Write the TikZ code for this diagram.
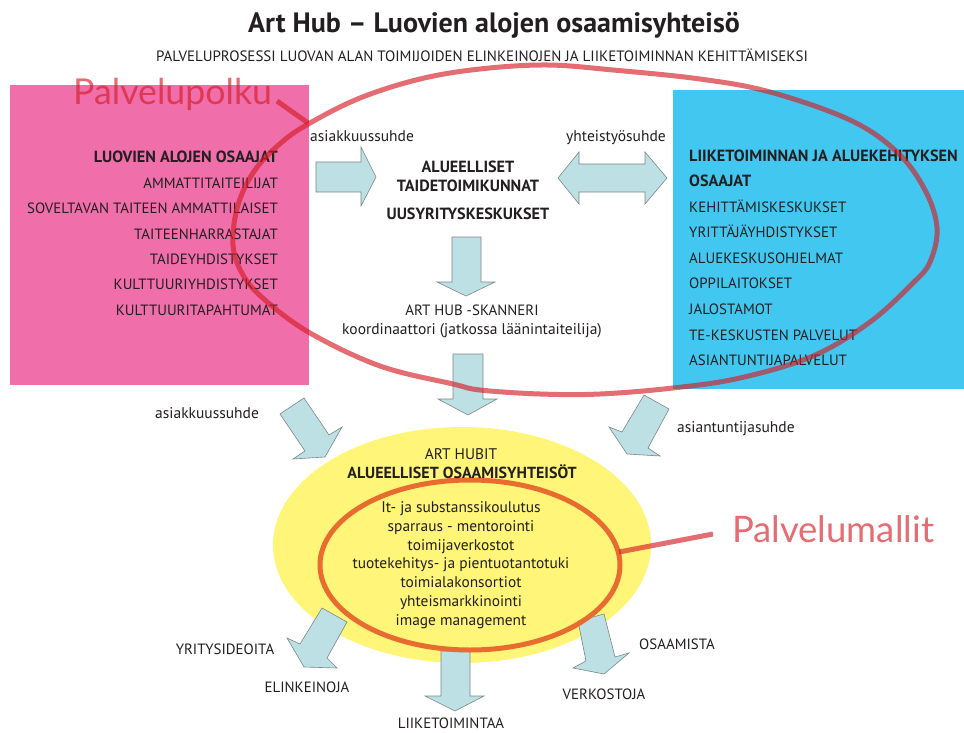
\documentclass[tikz,border=0pt]{standalone}
\usepackage{fontspec}
\setmainfont{PT Sans}
\newfontfamily\calloutfont{Lato}
\definecolor{txt}{RGB}{35,31,32}
\definecolor{pinkbox}{RGB}{240,110,170}
\definecolor{bluebox}{RGB}{66,200,240}
\definecolor{arrowfill}{RGB}{188,224,228}
\definecolor{arrowline}{RGB}{125,135,135}
\definecolor{hubyellow}{RGB}{255,245,120}
\definecolor{ringorange}{RGB}{232,108,48}
\definecolor{pathred}{RGB}{213,28,36}
\tikzset{
  blockarrow/.style={fill=arrowfill, draw=arrowline, line width=0.6pt, line join=miter},
  lbl/.style={inner sep=0pt, text=txt, font=\fontsize{14.9}{16}\selectfont},
  lblb/.style={inner sep=0pt, text=txt, font=\fontsize{16.2}{18}\selectfont\bfseries},
  rel/.style={inner sep=0pt, text=txt, font=\fontsize{15.5}{17}\selectfont},
  hubtxt/.style={inner sep=0pt, text=txt, font=\fontsize{15.4}{17}\selectfont},
  callout/.style={inner sep=0pt, text=pathred, text opacity=0.64, font=\fontsize{35.7}{40}\calloutfont},
  redline/.style={draw=pathred, draw opacity=0.64, line width=5pt},
}
\begin{document}
\begin{tikzpicture}[x=1pt,y=-1pt]
\useasboundingbox (0,0) rectangle (964,733);
\fill[white] (0,0) rectangle (964,733);

% boxes
\fill[pinkbox] (10,85) rectangle (309,385);
\fill[bluebox] (673,90) rectangle (964,389);

% title
\node[inner sep=0pt, anchor=base, text=txt, font=\fontsize{28}{30}\selectfont\bfseries] (title) at (494,33) {Art Hub – Luovien alojen osaamisyhteisö};
\node[inner sep=0pt, anchor=base, text=txt, font=\fontsize{15}{17}\selectfont] (subtitle) at (482,62) {PALVELUPROSESSI LUOVAN ALAN TOIMIJOIDEN ELINKEINOJEN JA LIIKETOIMINNAN KEHITTÄMISEKSI};

% pink list
\node[lblb, anchor=base east] (p0) at (278,163) {LUOVIEN ALOJEN OSAAJAT};
\node[lbl, anchor=base east] (p1) at (278,188.3) {AMMATTITAITEILIJAT};
\node[lbl, anchor=base east] (p2) at (278,213.6) {SOVELTAVAN TAITEEN AMMATTILAISET};
\node[lbl, anchor=base east] (p3) at (278,239) {TAITEENHARRASTAJAT};
\node[lbl, anchor=base east] (p4) at (278,264) {TAIDEYHDISTYKSET};
\node[lbl, anchor=base east] (p5) at (278,289.5) {KULTTUURIYHDISTYKSET};
\node[lbl, anchor=base east] (p6) at (278,315) {KULTTUURITAPAHTUMAT};

% blue list
\node[lblb, anchor=base west] (b0) at (689,161) {LIIKETOIMINNAN JA ALUEKEHITYKSEN};
\node[lblb, anchor=base west] (b1) at (689,186) {OSAAJAT};
\node[lbl, anchor=base west] (b2) at (689,212) {KEHITTÄMISKESKUKSET};
\node[lbl, anchor=base west] (b3) at (689,237) {YRITTÄJÄYHDISTYKSET};
\node[lbl, anchor=base west] (b4) at (689,263) {ALUEKESKUSOHJELMAT};
\node[lbl, anchor=base west] (b5) at (689,288) {OPPILAITOKSET};
\node[lbl, anchor=base west] (b6) at (689,314) {JALOSTAMOT};
\node[lbl, anchor=base west] (b7) at (689,340) {TE-KESKUSTEN PALVELUT};
\node[lbl, anchor=base west] (b8) at (689,365) {ASIANTUNTIJAPALVELUT};

% centre
\node[lblb, anchor=base] (c1) at (468,172) {ALUEELLISET};
\node[lblb, anchor=base] (c2) at (468,191) {TAIDETOIMIKUNNAT};
\node[lblb, anchor=base] (c3) at (468,219) {UUSYRITYSKESKUKSET};
\node[lbl, anchor=base] (s1) at (472,315) {ART HUB -SKANNERI};
\node[rel, anchor=base] (s2) at (472,334) {koordinaattori (jatkossa läänintaiteilija)};

% relation labels
\node[rel, anchor=base west] (r1) at (310,142) {asiakkuussuhde};
\node[rel, anchor=base west] (r2) at (566,142) {yhteistyösuhde};
\node[rel, anchor=base west] (r3) at (155,418) {asiakkuussuhde};
\node[rel, anchor=base west] (r4) at (677,432) {asiantuntijasuhde};

% top arrows
\draw[blockarrow] (316,162) -- (361,162) -- (361,147) -- (376,177) -- (361,206) -- (361,192) -- (316,192) -- cycle;
\draw[blockarrow] (558,178) -- (579,152) -- (579,164) -- (645,164) -- (645,152) -- (667,178) -- (645,204) -- (645,192) -- (579,192) -- (579,204) -- cycle;
\draw[blockarrow] (452,237) -- (481,237) -- (481,282) -- (495,282) -- (466,296) -- (437,282) -- (452,282) -- cycle;
\draw[blockarrow] (453,354) -- (483,354) -- (483,399) -- (497,399) -- (468,415) -- (438,399) -- (453,399) -- cycle;
\draw[blockarrow] (280,414) -- (304,398) -- (329,435) -- (342,427) -- (325,457) -- (293,459) -- (305,451) -- cycle;
\draw[blockarrow] (644,395) -- (669,409) -- (648,448) -- (660,456) -- (627,454) -- (609,427) -- (622,432) -- cycle;

% hub
\fill[hubyellow] (462,545) ellipse [x radius=189, y radius=118];
\draw[blockarrow] (322,608) -- (347,622) -- (327,658) -- (337,668) -- (304,667) -- (287,638) -- (300,644) -- cycle;
\draw[blockarrow] (441,651) -- (470,651) -- (470,696) -- (484,696) -- (455,711) -- (425,696) -- (441,696) -- cycle;
\draw[blockarrow] (578,621) -- (604,614) -- (615,657) -- (629,653) -- (604,674) -- (573,668) -- (586,661) -- cycle;
\draw[draw=ringorange, line width=5pt] (470,565) ellipse [x radius=150, y radius=85];
\coordinate (ringE) at (619,552);

\node[hubtxt, anchor=base] (h0) at (461,459) {ART HUBIT};
\node[inner sep=0pt, text=txt, font=\fontsize{16}{18}\selectfont\bfseries, anchor=base] (h1) at (462,478) {ALUEELLISET OSAAMISYHTEISÖT};
\node[hubtxt, anchor=base] (h2) at (461,512) {It- ja substanssikoulutus};
\node[hubtxt, anchor=base] (h3) at (461,531) {sparraus - mentorointi};
\node[hubtxt, anchor=base] (h4) at (461,550) {toimijaverkostot};
\node[hubtxt, anchor=base] (h5) at (461,568.5) {tuotekehitys- ja pientuotantotuki};
\node[hubtxt, anchor=base] (h6) at (461,587) {toimialakonsortiot};
\node[hubtxt, anchor=base] (h7) at (461,606) {yhteismarkkinointi};
\node[hubtxt, anchor=base] (h8) at (461,625) {image management};

% outcomes
\node[lbl, anchor=base] (o1) at (225,654) {YRITYSIDEOITA};
\node[lbl, anchor=base] (o2) at (307,692) {ELINKEINOJA};
\node[lbl, anchor=base] (o3) at (451,728) {LIIKETOIMINTAA};
\node[lbl, anchor=base] (o4) at (604,699) {VERKOSTOJA};
\node[lbl, anchor=base] (o5) at (677,649) {OSAAMISTA};

% callouts
\node[callout, anchor=base west] (polku) at (73,105) {Palvelupolku};
\node[callout, anchor=base west, font=\fontsize{36.5}{40}\calloutfont] (mallit) at (732,542) {Palvelumallit};
\coordinate (polkuEnd) at (277,101);
\coordinate (ringW) at (308,123);
\coordinate (mallitEnd) at (713,534);
\draw[redline, line cap=butt] (polkuEnd) -- (ringW);
\draw[redline, line cap=butt] (ringE) -- (mallitEnd);

% big path ellipse
\draw[redline] plot[smooth cycle, tension=0.6] coordinates {
 (233,245) (238,205) (255,170) (282,142) (310,123) (360,98) (420,79) (480,69)
 (547,65) (613,70) (700,79) (770,92) (850,120) (897,152) (925,190) (937,228)
 (930,262) (913,283) (870,322) (813,356) (740,378) (673,388) (600,394) (540,394)
 (480,390) (453,384) (380,366) (310,333) (265,300) (243,275)};
\end{tikzpicture}
\end{document}
